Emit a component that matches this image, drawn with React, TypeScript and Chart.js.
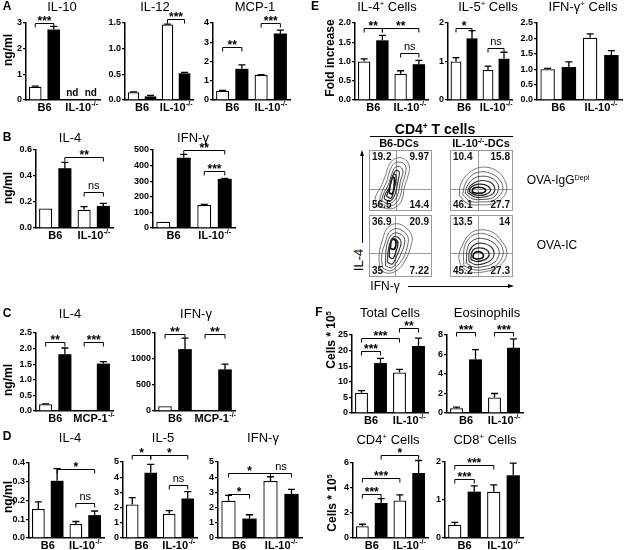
import React, { useEffect, useRef } from "react";
import { Chart, registerables } from "chart.js";
Chart.register(...registerables);

const FF = '"Liberation Sans", Arial, Helvetica, sans-serif';

// ---------- categories ----------
const groupsIL10 = ["B6", "IL-10^-/-"];
const groupsMCP1 = ["B6", "MCP-1^-/-"];

// ---------- Panel A ----------
const a1White = [0.52, null];
const a1WhiteErr = [0.02, 0];
const a1Black = [2.75, null];
const a1BlackErr = [0.12, 0];
const a1Brackets = [[0, 1, 3.0, "***"]];

const a2White = [0.15, 1.47];
const a2WhiteErr = [0.01, 0.01];
const a2Black = [0.07, 0.52];
const a2BlackErr = [0.02, 0.02];
const a2Brackets = [[2, 3, 1.58, "***"]];

const a3White = [0.48, 1.3];
const a3WhiteErr = [0.02, 0.02];
const a3Black = [1.62, 3.45];
const a3BlackErr = [0.2, 0.18];
const a3Brackets = [[0, 1, 2.77, "**"], [2, 3, 3.98, "***"]];

// ---------- Panel B ----------
const b1White = [0.15, 0.14];
const b1WhiteErr = [0, 0.025];
const b1Black = [0.46, 0.17];
const b1BlackErr = [0.045, 0.02];
const b1Brackets = [[1, 3, 0.544, "**"], [2, 3, 0.279, "ns"]];

const b2White = [40, 148];
const b2WhiteErr = [0, 3];
const b2Black = [450, 315];
const b2BlackErr = [22, 3];
const b2Brackets = [[1, 3, 500, "**"], [2, 3, 367, "***"]];

// ---------- Panel C ----------
const c1White = [0.22, 0.02];
const c1WhiteErr = [0.01, 0];
const c1Black = [1.82, 1.52];
const c1BlackErr = [0.2, 0.06];
const c1Brackets = [[0, 1, 2.22, "**"], [2, 3, 2.22, "***"]];

const c2White = [90, 5];
const c2WhiteErr = [0, 0];
const c2Black = [1190, 800];
const c2BlackErr = [210, 100];
const c2Brackets = [[0, 1, 1480, "**"], [2, 3, 1480, "**"]];

// ---------- Panel D ----------
const d1White = [0.155, 0.075];
const d1WhiteErr = [0.038, 0.013];
const d1Black = [0.305, 0.122];
const d1BlackErr = [0.065, 0.022];
const d1Brackets = [[1, 3, 0.367, "*"], [2, 3, 0.186, "ns"]];

const d2White = [2.2, 1.6];
const d2WhiteErr = [0.45, 0.2];
const d2Black = [4.3, 2.6];
const d2BlackErr = [0.55, 0.45];
const d2Brackets = [[0, 1, 5.45, "*"], [1, 3, 5.45, "*"], [2, 3, 3.5, "ns"]];

const d3White = [2.45, 3.75];
const d3WhiteErr = [0.35, 0.28];
const d3Black = [1.28, 2.9];
const d3BlackErr = [0.25, 0.3];
const d3Brackets = [[0, 2, 4.27, "*"], [2, 3, 4.27, "ns"], [0, 1, 2.9, "*"]];

// ---------- Panel E ----------
const e1White = [1.0, 0.68];
const e1WhiteErr = [0.07, 0.08];
const e1Black = [1.55, 0.93];
const e1BlackErr = [0.13, 0.1];
const e1Brackets = [[0, 1, 1.86, "**"], [1, 3, 1.86, "**"], [2, 3, 1.21, "ns"]];

const e2White = [1.0, 0.78];
const e2WhiteErr = [0.1, 0.1];
const e2Black = [1.6, 1.07];
const e2BlackErr = [0.2, 0.17];
const e2Brackets = [[0, 1, 1.86, "*"], [2, 3, 1.34, "ns"]];

const e3White = [1.0, 2.02];
const e3WhiteErr = [0.03, 0.13];
const e3Black = [1.07, 1.46];
const e3BlackErr = [0.17, 0.14];
const e3Brackets: any[] = [];

// ---------- Panel F ----------
const f1White = [6.5, 13];
const f1WhiteErr = [0.7, 1];
const f1Black = [16, 21.5];
const f1BlackErr = [1.5, 2.5];
const f1Brackets = [[0, 1, 20, "***"], [0, 2, 23.9, "***"], [2, 3, 27.1, "**"]];

const f2White = [0.5, 1.6];
const f2WhiteErr = [0.1, 0.4];
const f2Black = [5.5, 6.7];
const f2BlackErr = [1, 0.9];
const f2Brackets = [[0, 1, 8.34, "***"], [2, 3, 8.34, "***"]];

const f3White = [0.95, 3.0];
const f3WhiteErr = [0.15, 0.45];
const f3Black = [2.8, 5.2];
const f3BlackErr = [0.35, 1.0];
const f3Brackets = [[0, 1, 3.55, "***"], [0, 2, 4.79, "***"], [1, 3, 6.63, "*"]];

const f4White = [0.35, 1.22];
const f4WhiteErr = [0.06, 0.18];
const f4Black = [1.22, 1.65];
const f4BlackErr = [0.15, 0.32];
const f4Brackets = [[0, 1, 1.55, "***"], [0, 2, 1.92, "***"]];

// ---------- Flow cytometry (IFN-γ x, IL-4 y; 0-100 units) ----------
const flow1Nums = ["19.2", "9.97", "56.5", "14.4"];
const flow2Nums = ["10.4", "15.8", "46.1", "27.7"];
const flow3Nums = ["36.9", "20.9", "35", "7.22"];
const flow4Nums = ["13.5", "14", "45.2", "27.3"];

const flow1Loops = [
  [[12, 10], [28, 4], [42, 6], [52, 18], [56, 38], [62, 58], [64, 74], [55, 86], [42, 86], [32, 76], [26, 58], [18, 38], [10, 22]],
  [[16, 14], [30, 8], [42, 12], [50, 26], [53, 44], [58, 62], [58, 74], [50, 80], [40, 78], [33, 66], [28, 48], [20, 30]],
  [[20, 17], [31, 12], [41, 18], [47, 32], [50, 50], [54, 64], [50, 72], [42, 72], [36, 60], [31, 44], [23, 28]],
  [[24, 20], [33, 16], [40, 24], [44, 38], [47, 54], [48, 64], [42, 66], [37, 54], [33, 40], [26, 28]],
  [[28, 24], [35, 21], [39, 32], [42, 46], [43, 58], [39, 60], [35, 48], [31, 34]],
  [[32, 30], [37, 28], [40, 42], [40, 54], [37, 55], [34, 44]],
];
const flow2Loops = [
  [[15, 25], [28, 12], [48, 10], [68, 12], [84, 22], [90, 36], [86, 52], [74, 66], [55, 72], [38, 68], [24, 56], [16, 40]],
  [[20, 27], [32, 16], [50, 15], [68, 17], [80, 27], [84, 38], [78, 52], [64, 62], [48, 64], [34, 58], [24, 44]],
  [[24, 29], [36, 20], [52, 19], [68, 22], [76, 32], [76, 44], [66, 54], [50, 57], [36, 52], [27, 40]],
  [[28, 30], [40, 23], [55, 23], [68, 28], [71, 38], [64, 47], [50, 50], [38, 46], [30, 38]],
  [[31, 31], [42, 26], [56, 27], [64, 33], [60, 41], [48, 44], [38, 42], [32, 37]],
  [[35, 31], [45, 29], [55, 31], [56, 36], [46, 39], [37, 37]],
];
const flow3Loops = [
  [[18, 10], [32, 6], [46, 12], [58, 28], [66, 48], [68, 66], [58, 80], [44, 86], [30, 80], [22, 62], [16, 36]],
  [[22, 14], [34, 10], [45, 18], [55, 32], [61, 50], [62, 64], [54, 74], [42, 78], [32, 72], [26, 56], [20, 34]],
  [[26, 18], [36, 15], [44, 24], [51, 38], [56, 52], [56, 63], [48, 70], [38, 70], [31, 60], [27, 42]],
  [[29, 24], [37, 21], [43, 32], [48, 44], [51, 56], [46, 64], [38, 64], [33, 54], [30, 38]],
  [[32, 32], [38, 30], [43, 42], [46, 54], [42, 61], [36, 60], [33, 48]],
  [[34, 46], [40, 45], [43, 55], [39, 61], [35, 57]],
];
const flow4Loops = [
  [[18, 16], [32, 8], [52, 8], [72, 14], [86, 26], [90, 42], [82, 58], [68, 72], [48, 76], [32, 70], [20, 52], [14, 32]],
  [[22, 18], [36, 12], [54, 12], [72, 18], [82, 30], [84, 44], [76, 58], [60, 68], [44, 70], [30, 62], [22, 44]],
  [[26, 22], [38, 16], [54, 17], [68, 22], [77, 33], [77, 45], [68, 56], [52, 62], [38, 60], [28, 48]],
  [[30, 25], [41, 20], [55, 22], [66, 28], [70, 38], [66, 48], [54, 54], [40, 53], [31, 42]],
  [[33, 28], [43, 25], [55, 28], [62, 35], [58, 44], [46, 47], [36, 43]],
  [[36, 31], [45, 29], [53, 33], [49, 40], [39, 39]],
];

// ---------- layout (chart areas in page pixels: left, right, top, bottom) ----------
const PANELS = [
  { box: [26, 100, 23, 100], max: 3, step: 1, dec: 0, groups: groupsIL10, white: a1White, whiteErr: a1WhiteErr, black: a1Black, blackErr: a1BlackErr, brackets: a1Brackets },
  { box: [125, 193, 23, 100], max: 1.5, step: 0.5, dec: 1, groups: groupsIL10, white: a2White, whiteErr: a2WhiteErr, black: a2Black, blackErr: a2BlackErr, brackets: a2Brackets },
  { box: [213, 290, 23, 100], max: 4, step: 1, dec: 0, groups: groupsIL10, white: a3White, whiteErr: a3WhiteErr, black: a3Black, blackErr: a3BlackErr, brackets: a3Brackets },
  { box: [36, 113, 150, 228], max: 0.6, step: 0.1, dec: 1, groups: groupsIL10, white: b1White, whiteErr: b1WhiteErr, black: b1Black, blackErr: b1BlackErr, brackets: b1Brackets },
  { box: [153, 235, 150, 228], max: 500, step: 100, dec: 0, groups: groupsIL10, white: b2White, whiteErr: b2WhiteErr, black: b2Black, blackErr: b2BlackErr, brackets: b2Brackets },
  { box: [36, 113, 333, 411], max: 2.5, step: 0.5, dec: 1, groups: groupsMCP1, white: c1White, whiteErr: c1WhiteErr, black: c1Black, blackErr: c1BlackErr, brackets: c1Brackets },
  { box: [155, 235, 333, 411], max: 1500, step: 500, dec: 0, groups: groupsMCP1, white: c2White, whiteErr: c2WhiteErr, black: c2Black, blackErr: c2BlackErr, brackets: c2Brackets },
  { box: [29, 104, 463, 538], max: 0.4, step: 0.1, dec: 1, groups: groupsIL10, white: d1White, whiteErr: d1WhiteErr, black: d1Black, blackErr: d1BlackErr, brackets: d1Brackets },
  { box: [123, 197, 462, 538], max: 5, step: 1, dec: 0, groups: groupsIL10, white: d2White, whiteErr: d2WhiteErr, black: d2Black, blackErr: d2BlackErr, brackets: d2Brackets },
  { box: [218, 302, 462, 538], max: 5, step: 1, dec: 0, groups: groupsIL10, white: d3White, whiteErr: d3WhiteErr, black: d3Black, blackErr: d3BlackErr, brackets: d3Brackets },
  { box: [355, 428, 23, 100], max: 2, step: 0.5, dec: 1, groups: groupsIL10, white: e1White, whiteErr: e1WhiteErr, black: e1Black, blackErr: e1BlackErr, brackets: e1Brackets },
  { box: [448, 512, 23, 100], max: 2, step: 1, dec: 0, groups: groupsIL10, white: e2White, whiteErr: e2WhiteErr, black: e2Black, blackErr: e2BlackErr, brackets: e2Brackets },
  { box: [537, 622, 23, 100], max: 2.5, step: 0.5, dec: 1, groups: groupsIL10, white: e3White, whiteErr: e3WhiteErr, black: e3Black, blackErr: e3BlackErr, brackets: e3Brackets },
  { box: [352, 428, 335, 413], max: 25, step: 5, dec: 0, groups: groupsIL10, white: f1White, whiteErr: f1WhiteErr, black: f1Black, blackErr: f1BlackErr, brackets: f1Brackets },
  { box: [447, 523, 335, 413], max: 8, step: 2, dec: 0, groups: groupsIL10, white: f2White, whiteErr: f2WhiteErr, black: f2Black, blackErr: f2BlackErr, brackets: f2Brackets },
  { box: [353, 428, 463, 538], max: 6, step: 2, dec: 0, groups: groupsIL10, white: f3White, whiteErr: f3WhiteErr, black: f3Black, blackErr: f3BlackErr, brackets: f3Brackets },
  { box: [445, 523, 462, 538], max: 2, step: 1, dec: 0, groups: groupsIL10, white: f4White, whiteErr: f4WhiteErr, black: f4Black, blackErr: f4BlackErr, brackets: f4Brackets },
];

const FLOWS = [
  { box: [369, 150, 63, 61], qx: 43, qy: 36, nums: flow1Nums, loops: flow1Loops },
  { box: [450, 150, 63, 61], qx: 45, qy: 36, nums: flow2Nums, loops: flow2Loops },
  { box: [369, 215, 63, 62], qx: 42, qy: 39, nums: flow3Nums, loops: flow3Loops },
  { box: [450, 215, 63, 62], qx: 44, qy: 39, nums: flow4Nums, loops: flow4Loops },
];

const YW = 34;
const XH = 20;
const PT = 24;
const PR = 4;

function drawSupText(ctx: CanvasRenderingContext2D, text: string, x: number, y: number, size: number) {
  const [main, sup] = text.split("^");
  ctx.font = `bold ${size}px ${FF}`;
  const w1 = ctx.measureText(main).width;
  let w2 = 0;
  if (sup) {
    ctx.font = `bold ${Math.round(size * 0.62)}px ${FF}`;
    w2 = ctx.measureText(sup).width;
  }
  const start = x - (w1 + w2) / 2;
  ctx.textAlign = "left";
  ctx.textBaseline = "middle";
  ctx.font = `bold ${size}px ${FF}`;
  ctx.fillText(main, start, y);
  if (sup) {
    ctx.font = `bold ${Math.round(size * 0.62)}px ${FF}`;
    ctx.fillText(sup, start + w1 + 0.5, y - size * 0.32);
  }
}

function BarChart({ p }: { p: any }) {
  const ref = useRef<HTMLCanvasElement>(null);
  const [l, r, t, b] = p.box;
  const w = r - l + YW + PR;
  const h = b - t + PT + XH;
  useEffect(() => {
    const annot = {
      id: "annot",
      afterDraw(chart: any) {
        const ctx = chart.ctx as CanvasRenderingContext2D;
        const ys = chart.scales.y;
        const xs = chart.scales.x;
        const area = chart.chartArea;
        ctx.save();
        ctx.fillStyle = "#000";
        ctx.strokeStyle = "#000";
        [0, 1].forEach((d) => {
          const meta = chart.getDatasetMeta(d);
          const vals = d === 0 ? p.white : p.black;
          const errs = d === 0 ? p.whiteErr : p.blackErr;
          meta.data.forEach((el: any, i: number) => {
            const v = vals[i];
            if (v === null || v === undefined) {
              ctx.font = `bold 10px ${FF}`;
              ctx.textAlign = "center";
              ctx.textBaseline = "bottom";
              ctx.fillText("nd", el.x, area.bottom - 2);
              return;
            }
            const e = errs[i];
            if (!e) return;
            const y0 = ys.getPixelForValue(v);
            const y1 = ys.getPixelForValue(v + e);
            ctx.lineWidth = 1.3;
            ctx.beginPath();
            ctx.moveTo(el.x, y0);
            ctx.lineTo(el.x, y1);
            ctx.moveTo(el.x - 3.5, y1);
            ctx.lineTo(el.x + 3.5, y1);
            ctx.stroke();
          });
        });
        p.brackets.forEach((br: any) => {
          const [i, j, lev, txt] = br;
          const xi = chart.getDatasetMeta(i % 2).data[Math.floor(i / 2)].x;
          const xj = chart.getDatasetMeta(j % 2).data[Math.floor(j / 2)].x;
          const y = Math.round(ys.getPixelForValue(lev)) + 0.5;
          ctx.lineWidth = 1;
          ctx.beginPath();
          ctx.moveTo(xi, y + 4);
          ctx.lineTo(xi, y);
          ctx.lineTo(xj, y);
          ctx.lineTo(xj, y + 4);
          ctx.stroke();
          ctx.textAlign = "center";
          if (txt === "ns") {
            ctx.font = `11px ${FF}`;
            ctx.textBaseline = "bottom";
            ctx.fillText(txt, (xi + xj) / 2, y - 1);
          } else {
            ctx.font = `bold 12px ${FF}`;
            ctx.textBaseline = "bottom";
            ctx.fillText(txt, (xi + xj) / 2, y + 4);
          }
        });
        p.groups.forEach((g: string, k: number) => {
          drawSupText(ctx, g, xs.getPixelForValue(k), area.bottom + 8, 11);
        });
        ctx.restore();
      },
    };
    const chart = new Chart(ref.current as HTMLCanvasElement, {
      type: "bar",
      data: {
        labels: p.groups,
        datasets: [
          { data: p.white, backgroundColor: "#fff", borderColor: "#000", borderWidth: 1.3, barPercentage: 0.68, categoryPercentage: 1 },
          { data: p.black, backgroundColor: "#000", borderColor: "#000", borderWidth: 0, barPercentage: 0.68, categoryPercentage: 1 },
        ],
      },
      options: {
        animation: false,
        responsive: false,
        maintainAspectRatio: false,
        devicePixelRatio: 1,
        layout: { padding: { top: PT, right: PR, left: 0, bottom: 0 } },
        plugins: { legend: { display: false }, tooltip: { enabled: false } },
        scales: {
          x: {
            grid: { display: false },
            border: { display: true, color: "#000", width: 1.5 },
            ticks: { display: false },
            afterFit: (s: any) => { s.height = XH; },
          },
          y: {
            min: 0,
            max: p.max,
            ticks: {
              stepSize: p.step,
              color: "#000",
              padding: 1,
              font: { family: FF, size: 9, weight: "bold" },
              callback: (v: any) => Number(v).toFixed(p.dec),
            },
            grid: { drawOnChartArea: false, drawTicks: true, tickLength: 3, color: "#000", lineWidth: 1.2 },
            border: { display: true, color: "#000", width: 1.5 },
            afterFit: (s: any) => { s.width = YW; },
          },
        },
      } as any,
      plugins: [annot],
    });
    return () => chart.destroy();
  }, []);
  return (
    <canvas
      ref={ref}
      width={w}
      height={h}
      style={{ position: "absolute", left: l - YW, top: t - PT, width: w, height: h }}
    />
  );
}

function FlowPlot({ f }: { f: any }) {
  const ref = useRef<HTMLCanvasElement>(null);
  const [l, t, w, h] = f.box;
  useEffect(() => {
    const colors = ["#6a6a6a", "#5a5a5a", "#4a4a4a", "#333", "#222", "#000"];
    const widths = [0.9, 0.9, 1, 1.1, 1.3, 1.6];
    const deco = {
      id: "deco",
      beforeDatasetsDraw(chart: any) {
        const ctx = chart.ctx as CanvasRenderingContext2D;
        const xs = chart.scales.x;
        const ys = chart.scales.y;
        ctx.save();
        ctx.strokeStyle = "#9a9a9a";
        ctx.lineWidth = 1;
        ctx.strokeRect(0.5, 0.5, w - 1, h - 1);
        const qx = Math.round(xs.getPixelForValue(f.qx)) + 0.5;
        const qy = Math.round(ys.getPixelForValue(f.qy)) + 0.5;
        ctx.beginPath();
        ctx.moveTo(qx, 0);
        ctx.lineTo(qx, h);
        ctx.moveTo(0, qy);
        ctx.lineTo(w, qy);
        ctx.stroke();
        ctx.restore();
      },
      afterDraw(chart: any) {
        const ctx = chart.ctx as CanvasRenderingContext2D;
        ctx.save();
        ctx.fillStyle = "#111";
        ctx.font = `bold 10px ${FF}`;
        ctx.textBaseline = "top";
        ctx.textAlign = "left";
        ctx.fillText(f.nums[0], 3, 2);
        ctx.textAlign = "right";
        ctx.fillText(f.nums[1], w - 3, 2);
        ctx.textBaseline = "bottom";
        ctx.textAlign = "left";
        ctx.fillText(f.nums[2], 3, h - 1);
        ctx.textAlign = "right";
        ctx.fillText(f.nums[3], w - 3, h - 1);
        ctx.restore();
      },
    };
    const chart = new Chart(ref.current as HTMLCanvasElement, {
      type: "scatter",
      data: {
        datasets: f.loops.map((loop: number[][], k: number) => ({
          data: [...loop, loop[0]].map(([x, y]) => ({ x, y })),
          showLine: true,
          pointRadius: 0,
          borderColor: colors[k],
          borderWidth: widths[k],
          tension: 0.4,
          fill: false,
        })),
      },
      options: {
        animation: false,
        responsive: false,
        maintainAspectRatio: false,
        devicePixelRatio: 1,
        layout: { padding: 0 },
        plugins: { legend: { display: false }, tooltip: { enabled: false } },
        scales: {
          x: { display: false, min: 0, max: 100 },
          y: { display: false, min: 0, max: 100 },
        },
      } as any,
      plugins: [deco],
    });
    return () => chart.destroy();
  }, []);
  return (
    <canvas
      ref={ref}
      width={w}
      height={h}
      style={{ position: "absolute", left: l, top: t, width: w, height: h }}
    />
  );
}

function Txt({ x, y, size = 13, bold = false, rotate = false, children, color = "#000" }: any) {
  return (
    <div
      style={{
        position: "absolute",
        left: x,
        top: y,
        transform: `translate(-50%, -50%)${rotate ? " rotate(-90deg)" : ""}`,
        fontFamily: FF,
        fontSize: size,
        fontWeight: bold ? "bold" : "normal",
        whiteSpace: "nowrap",
        lineHeight: 1,
        color,
      }}
    >
      {children}
    </div>
  );
}

const supStyle = { fontSize: "0.6em", verticalAlign: "0.55em", lineHeight: 0 } as any;

export default function App() {
  return (
    <div style={{ position: "absolute", left: 0, top: 0, width: 624, height: 550, overflow: "hidden", background: "#fff" }}>
      {PANELS.map((p, i) => <BarChart key={i} p={p} />)}
      {FLOWS.map((f, i) => <FlowPlot key={"f" + i} f={f} />)}

      {/* panel letters */}
      <Txt x={7} y={6} size={12} bold>A</Txt>
      <Txt x={7} y={137} size={12} bold>B</Txt>
      <Txt x={7} y={313} size={12} bold>C</Txt>
      <Txt x={7} y={436} size={12} bold>D</Txt>
      <Txt x={315} y={6} size={12} bold>E</Txt>
      <Txt x={319} y={312} size={12} bold>F</Txt>

      {/* titles */}
      <Txt x={62} y={6}>IL-10</Txt>
      <Txt x={155} y={6}>IL-12</Txt>
      <Txt x={255} y={6}>MCP-1</Txt>
      <Txt x={70} y={137}>IL-4</Txt>
      <Txt x={193} y={137}>IFN-γ</Txt>
      <Txt x={70} y={313}>IL-4</Txt>
      <Txt x={196} y={313}>IFN-γ</Txt>
      <Txt x={70} y={437}>IL-4</Txt>
      <Txt x={163} y={437}>IL-5</Txt>
      <Txt x={263} y={437}>IFN-γ</Txt>
      <Txt x={387} y={6}>IL-4<span style={supStyle}>+</span> Cells</Txt>
      <Txt x={488} y={6}>IL-5<span style={supStyle}>+</span> Cells</Txt>
      <Txt x={583} y={6}>IFN-γ<span style={supStyle}>+</span> Cells</Txt>
      <Txt x={390} y={312}>Total Cells</Txt>
      <Txt x={487} y={312}>Eosinophils</Txt>
      <Txt x={388} y={439}>CD4<span style={supStyle}>+</span> Cells</Txt>
      <Txt x={485} y={439}>CD8<span style={supStyle}>+</span> Cells</Txt>

      {/* axis titles */}
      <Txt x={8} y={50} size={12} bold rotate>ng/ml</Txt>
      <Txt x={8} y={188} size={12} bold rotate>ng/ml</Txt>
      <Txt x={8} y={380} size={12} bold rotate>ng/ml</Txt>
      <Txt x={8} y={497} size={12} bold rotate>ng/ml</Txt>
      <Txt x={330} y={58} size={12} bold rotate>Fold increase</Txt>
      <Txt x={331} y={340} size={12} bold rotate>Cells * 10<span style={supStyle}>5</span></Txt>
      <Txt x={332} y={503} size={12} bold rotate>Cells * 10<span style={supStyle}>5</span></Txt>

      {/* flow cytometry labels */}
      <Txt x={435} y={129} size={14} bold>CD4<span style={supStyle}>+</span> T cells</Txt>
      <div style={{ position: "absolute", left: 370, top: 136, width: 143, height: 1, background: "#000" }} />
      <Txt x={399} y={143} size={11} bold>B6-DCs</Txt>
      <Txt x={481} y={143} size={11} bold>IL-10<span style={supStyle}>-/-</span>-DCs</Txt>
      <Txt x={558} y={180} size={12}>OVA-IgG<span style={supStyle}>Depl</span></Txt>
      <Txt x={557} y={245} size={12}>OVA-IC</Txt>
      <Txt x={358} y={260} size={13} rotate>IL-4</Txt>
      <Txt x={385} y={286} size={12}>IFN-γ</Txt>
      <div style={{ position: "absolute", left: 362, top: 155, width: 1, height: 88, background: "#000" }} />
      <div style={{ position: "absolute", left: 360, top: 150, width: 0, height: 0, borderLeft: "2.5px solid transparent", borderRight: "2.5px solid transparent", borderBottom: "6px solid #000" }} />
      <div style={{ position: "absolute", left: 408, top: 286, width: 101, height: 1, background: "#000" }} />
      <div style={{ position: "absolute", left: 508, top: 284, width: 0, height: 0, borderTop: "2.5px solid transparent", borderBottom: "2.5px solid transparent", borderLeft: "6px solid #000" }} />
    </div>
  );
}
